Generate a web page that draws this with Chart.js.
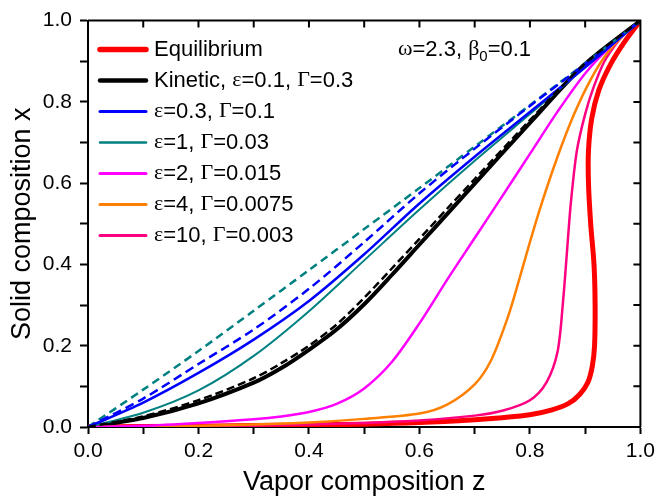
<!DOCTYPE html>
<html>
<head>
<meta charset="utf-8">
<script src="https://cdn.jsdelivr.net/npm/chart.js@4.4.1/dist/chart.umd.min.js"></script>
<style>
  html, body { margin: 0; padding: 0; background: #fff; }
  #wrap { width: 660px; height: 502px; }
</style>
</head>
<body>
<div id="wrap"><canvas id="chart" width="660" height="502"></canvas></div>
<script>
// values: z = vapor composition (x axis), x = solid composition (y axis)
const eqZ = [0, 0.2, 0.4, 0.5, 0.6, 0.7, 0.75, 0.8, 0.84, 0.87, 0.89, 0.905, 0.913, 0.917, 0.918, 0.916, 0.91, 0.906, 0.906, 0.912, 0.925, 0.945, 0.97, 1];
const eqX = [0, 0.002, 0.005, 0.007, 0.011, 0.018, 0.023, 0.03, 0.042, 0.058, 0.08, 0.11, 0.15, 0.2, 0.3, 0.4, 0.5, 0.6, 0.68, 0.76, 0.83, 0.89, 0.945, 1];

const kinZ = [0, 0.1, 0.2, 0.3, 0.35, 0.4, 0.45, 0.5, 0.55, 0.6, 0.65, 0.7, 0.8, 0.9, 1];
const kinX = [0, 0.022, 0.058, 0.109, 0.145, 0.19, 0.24, 0.302, 0.374, 0.449, 0.524, 0.599, 0.748, 0.893, 1];
const kinDashZ = [0, 0.1, 0.2, 0.3, 0.35, 0.4, 0.45, 0.5, 0.55, 0.6, 0.65, 0.7, 0.8, 0.9, 1];
const kinDashX = [0, 0.026, 0.066, 0.12, 0.157, 0.2, 0.252, 0.318, 0.39, 0.463, 0.537, 0.61, 0.755, 0.895, 1];

const e03Z = [0, 0.1, 0.2, 0.3, 0.4, 0.5, 0.6, 0.7, 0.8, 0.9, 1];
const e03X = [0, 0.06, 0.133, 0.215, 0.31, 0.425, 0.55, 0.665, 0.775, 0.885, 1];
const e03DashZ = [0, 0.1, 0.2, 0.3, 0.4, 0.5, 0.6, 0.7, 0.8, 0.9, 1];
const e03DashX = [0, 0.07, 0.155, 0.24, 0.34, 0.455, 0.575, 0.685, 0.79, 0.893, 1];

const e1Z = [0, 0.1, 0.2, 0.3, 0.4, 0.5, 0.6, 0.7, 0.8, 0.9, 1];
const e1X = [0, 0.035, 0.09, 0.175, 0.285, 0.41, 0.535, 0.655, 0.77, 0.885, 1];
const e1DashZ = [0, 0.1, 0.2, 0.3, 0.4, 0.5, 0.6, 0.7, 0.8, 0.9, 1];
const e1DashX = [0, 0.092, 0.187, 0.286, 0.386, 0.487, 0.588, 0.69, 0.792, 0.895, 1];

const e2Z = [0, 0.1, 0.2, 0.3, 0.35, 0.4, 0.45, 0.5, 0.55, 0.6, 0.65, 0.7, 0.75, 0.8, 0.85, 0.9, 0.95, 1];
const e2X = [0, 0.003, 0.01, 0.019, 0.026, 0.037, 0.057, 0.095, 0.16, 0.255, 0.362, 0.465, 0.568, 0.672, 0.776, 0.87, 0.942, 1];

const e4Z = [0, 0.1, 0.2, 0.3, 0.4, 0.5, 0.6, 0.65, 0.7, 0.73, 0.76, 0.78, 0.8, 0.82, 0.85, 0.88, 0.91, 0.94, 0.97, 1];
const e4X = [0, 0.001, 0.003, 0.006, 0.011, 0.02, 0.033, 0.055, 0.105, 0.165, 0.27, 0.36, 0.455, 0.545, 0.665, 0.77, 0.855, 0.92, 0.965, 1];

const e10Z = [0, 0.2, 0.4, 0.5, 0.6, 0.7, 0.75, 0.8, 0.83, 0.85, 0.86, 0.867, 0.874, 0.885, 0.9, 0.915, 0.935, 0.96, 0.98, 1];
const e10X = [0, 0.002, 0.006, 0.01, 0.016, 0.028, 0.04, 0.066, 0.11, 0.185, 0.31, 0.43, 0.55, 0.68, 0.77, 0.835, 0.9, 0.95, 0.978, 1];

const FONT = '"Liberation Sans", Arial, sans-serif';
const GREEK_FONT = '"Liberation Serif", "Times New Roman", serif';

function pts(zs, xs) {
    return zs.map((z, i) => ({ x: z, y: xs[i] }));
}

function line(label, zs, xs, color, width, dash, order, inLegend) {
    return {
        label: label,
        data: pts(zs, xs),
        borderColor: color,
        backgroundColor: color,
        borderWidth: width,
        borderDash: dash || [],
        showLine: true,
        pointRadius: 0,
        tension: 0.3,
        fill: false,
        order: order,
        inLegend: inLegend
    };
}

const datasets = [
    line('Equilibrium', eqZ, eqX, '#ff0000', 5, null, 10, true),
    line('Kinetic, ε=0.1, Γ=0.3', kinZ, kinX, '#000000', 4, null, 9, true),
    line('ε=0.3, Γ=0.1', e03Z, e03X, '#0000ff', 2.5, null, 5, true),
    line('ε=1, Γ=0.03', e1Z, e1X, '#008080', 2, null, 5, true),
    line('ε=2, Γ=0.015', e2Z, e2X, '#ff00ff', 2.5, null, 6, true),
    line('ε=4, Γ=0.0075', e4Z, e4X, '#ff8000', 2.5, null, 7, true),
    line('ε=10, Γ=0.003', e10Z, e10X, '#ff0080', 2.5, null, 8, true),
    line('', kinDashZ, kinDashX, '#000000', 2.5, [8, 4], 1, false),
    line('', e03DashZ, e03DashX, '#0000ff', 2.5, [9, 5], 1, false),
    line('', e1DashZ, e1DashX, '#008080', 2.5, [8, 5], 1, false)
];

// text with greek letters in a serif face, like the original
function drawMixed(ctx, text, x, y, size) {
    text.split(/([\u0370-\u03ff]+)/).forEach(part => {
        if (!part) return;
        const greek = /[\u0370-\u03ff]/.test(part);
        ctx.font = size + 'px ' + (greek ? GREEK_FONT : FONT);
        ctx.fillText(part, x, y);
        x += ctx.measureText(part).width;
    });
    return x;
}

const framePlugin = {
    id: 'frame',
    afterDraw(chart) {
        const { ctx, chartArea: a, scales } = chart;
        ctx.save();
        ctx.strokeStyle = '#000';
        ctx.lineWidth = 2;
        ctx.beginPath();
        ctx.moveTo(a.left, a.top);
        ctx.lineTo(a.right, a.top);
        ctx.lineTo(a.right, a.bottom);
        // inward ticks on top and right
        scales.x.ticks.forEach(t => {
            const px = scales.x.getPixelForValue(t.value);
            ctx.moveTo(px, a.top);
            ctx.lineTo(px, a.top + 7);
        });
        scales.y.ticks.forEach(t => {
            const py = scales.y.getPixelForValue(t.value);
            ctx.moveTo(a.right, py);
            ctx.lineTo(a.right - 7, py);
        });
        ctx.stroke();
        ctx.restore();
    }
};

const legendPlugin = {
    id: 'innerLegend',
    afterDatasetsDraw(chart) {
        const { ctx, chartArea: a } = chart;
        ctx.save();
        ctx.textBaseline = 'middle';
        ctx.fillStyle = '#000';
        let row = 0;
        chart.data.datasets.forEach(ds => {
            if (!ds.inLegend) return;
            const y = a.top + 29 + row * 31;
            ctx.strokeStyle = ds.borderColor;
            ctx.lineWidth = ds.borderWidth + 0.5;
            ctx.lineCap = 'round';
            ctx.beginPath();
            ctx.moveTo(a.left + 12, y);
            ctx.lineTo(a.left + 58, y);
            ctx.stroke();
            drawMixed(ctx, ds.label, a.left + 66, y, 22);
            row++;
        });
        // parameter note
        const ny = a.top + 29;
        let x = drawMixed(ctx, 'ω=2.3, β', a.left + 310, ny, 22);
        ctx.font = '15px ' + FONT;
        ctx.fillText('0', x, ny + 7);
        x += ctx.measureText('0').width;
        drawMixed(ctx, '=0.1', x, ny, 22);
        ctx.restore();
    }
};

function tickLabel(v) {
    return Math.round(v * 10) % 2 === 0 ? v.toFixed(1) : '';
}

new Chart(document.getElementById('chart').getContext('2d'), {
    type: 'scatter',
    data: { datasets: datasets },
    options: {
        responsive: false,
        animation: false,
        layout: { padding: { left: 0, right: 17, top: 14, bottom: 0 } },
        plugins: {
            legend: { display: false },
            tooltip: { enabled: false }
        },
        scales: {
            x: {
                type: 'linear',
                min: 0, max: 1,
                afterFit: s => { s.height = 75; },
                border: { display: true, color: '#000', width: 2 },
                grid: { drawOnChartArea: false, drawTicks: true, tickLength: 7, tickWidth: 2, tickColor: '#000' },
                ticks: { stepSize: 0.1, autoSkip: false, maxRotation: 0, padding: 5, color: '#000', font: { family: FONT, size: 21 }, callback: tickLabel },
                title: { display: true, text: 'Vapor composition z', color: '#000', font: { family: FONT, size: 27 }, padding: { top: 0, bottom: 3 } }
            },
            y: {
                type: 'linear',
                min: 0, max: 1,
                afterFit: s => { s.width = 88; },
                border: { display: true, color: '#000', width: 2 },
                grid: { drawOnChartArea: false, drawTicks: true, tickLength: 8, tickWidth: 2, tickColor: '#000' },
                ticks: { stepSize: 0.1, autoSkip: false, padding: 8, color: '#000', font: { family: FONT, size: 21 }, callback: tickLabel },
                title: { display: true, text: 'Solid composition x', color: '#000', font: { family: FONT, size: 27 }, padding: { top: 6, bottom: 0 } }
            }
        }
    },
    plugins: [framePlugin, legendPlugin]
});
</script>
</body>
</html>
